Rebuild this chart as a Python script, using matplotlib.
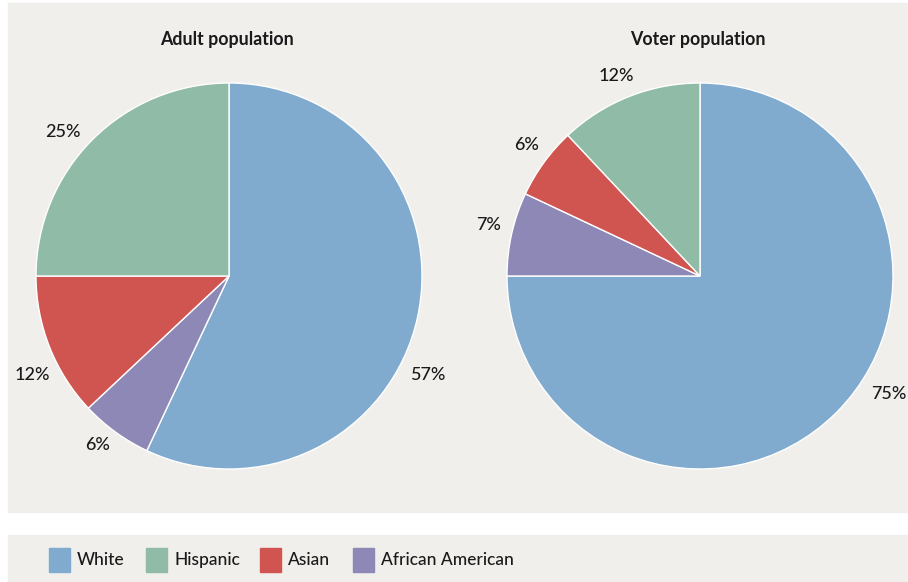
import numpy as np
import matplotlib.pyplot as plt
from matplotlib.patches import Rectangle

plt.rcParams['font.family'] = ['Lato', 'DejaVu Sans']

# data
groups = ["White", "Hispanic", "Asian", "African American"]
colors = ["#80abcf", "#90bba6", "#d05551", "#8e88b7"]
adult = [57, 25, 12, 6]
voter = [75, 12, 6, 7]
titles = ["Adult population", "Voter population"]

# slice order clockwise from 12 o'clock: White, African American, Asian, Hispanic
order = [0, 3, 2, 1]
# label nudges (degrees, radius factor) per group, as in the original layout
adult_nudge = [(-14, 1.15), (4, 1.14), (5, 1.14), (-2, 1.11)]
voter_nudge = [(13, 1.155), (1, 1.125), (-1, 1.125), (-1, 1.125)]

W, H = 908, 582
fig = plt.figure(figsize=(W / 100, H / 100), dpi=100)

# grey panels behind the pies and the legend
fig.patches.append(Rectangle((8 / W, 1 - 512 / H), 900 / W, 509 / H,
                             transform=fig.transFigure, color="#f0efec", zorder=-2))
fig.patches.append(Rectangle((8 / W, 0), 900 / W, 47 / H,
                             transform=fig.transFigure, color="#f0efec", zorder=-2))

centers = [229, 700]
r = 193
for cx, vals, title, nudge in zip(centers, [adult, voter], titles, [adult_nudge, voter_nudge]):
    ax = fig.add_axes([(cx - r) / W, (H - 276 - r) / H, 2 * r / W, 2 * r / H])
    v = [vals[i] for i in order]
    c = [colors[i] for i in order]
    wedges, _ = ax.pie(v, colors=c, startangle=90, counterclock=False,
                       wedgeprops=dict(edgecolor="white", linewidth=1))
    for k, (w, val) in enumerate(zip(wedges, v)):
        dang, dist = nudge[order[k]]
        ang = np.radians((w.theta1 + w.theta2) / 2 + dang)
        ax.text(dist * np.cos(ang), dist * np.sin(ang), f"{val}%",
                ha="center", va="center", fontsize=13, fontweight="medium",
                color="#1a1a1a", clip_on=False)
    ax.set_xlim(-1, 1)
    ax.set_ylim(-1, 1)
    ax.set_aspect("equal")
    ax.axis("off")
    fig.text((cx - 2) / W, 1 - 40 / H, title, ha="center", va="center",
             fontsize=12.8, fontweight="bold", color="#1a1a1a")

# legend row
legend_x = [49, 146, 260, 353]
for x, g, col in zip(legend_x, groups, colors):
    fig.patches.append(Rectangle((x / W, 10 / H), 21 / W, 24 / H,
                                 transform=fig.transFigure, color=col, zorder=1))
    fig.text((x + 28) / W, 22 / H, g, ha="left", va="center",
             fontsize=12.5, fontweight="medium", color="#1a1a1a")

fig.savefig("out.png", dpi=100)
